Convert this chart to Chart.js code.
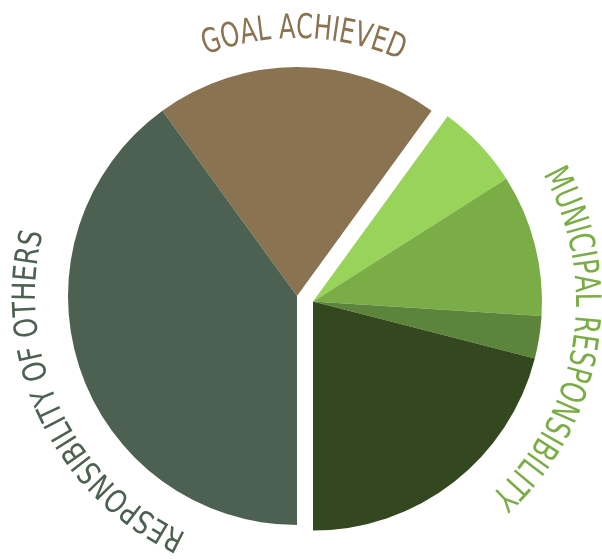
<!DOCTYPE html>
<html>
<head>
<meta charset="utf-8">
<script src="https://cdn.jsdelivr.net/npm/chart.js@4"></script>
<style>
  html, body { margin: 0; padding: 0; background: #fff; }
  #wrap { width: 602px; height: 559px; position: relative; }
</style>
</head>
<body>
<div id="wrap"><canvas id="pieChart"></canvas></div>
<script>
// slices, clockwise from the goal achieved slice
const sliceLabels = ['Goal achieved', 'Municipal 1', 'Municipal 2', 'Municipal 3', 'Municipal 4', 'Responsibility of others'];
const sliceValues = [20, 6, 10, 3, 21, 40];
const sliceColors = ['#8a7350', '#98d35a', '#7bad47', '#5c843a', '#33481e', '#4c6151'];
const municipalSlices = [1, 2, 3, 4]; // pulled out together

// curved group titles
const groupTitles = ['GOAL ACHIEVED', 'MUNICIPAL RESPONSIBILITY', 'RESPONSIBILITY OF OTHERS'];
const groupColors = ['#8a7350', '#7bad47', '#4c6151'];

const FONT = '"Liberation Sans Narrow", "DejaVu Sans Condensed", "Liberation Sans", sans-serif';

// shift the municipal slices as one block
const pullOut = {
    id: 'pullOut',
    afterDatasetsUpdate(chart) {
        const meta = chart.getDatasetMeta(0);
        municipalSlices.forEach(function (i) {
            const arc = meta.data[i];
            arc.x += 16;
            arc.y += 5.5;
        });
    }
};

// text along a circle, tops facing outward
function drawArcText(ctx, text, cx, cy, r, a0, a1, size, color) {
    ctx.save();
    ctx.font = size + 'px ' + FONT;
    ctx.fillStyle = color;
    ctx.textAlign = 'center';
    ctx.textBaseline = 'alphabetic';
    const widths = [];
    let total = 0;
    for (const ch of text) {
        const w = ctx.measureText(ch).width;
        widths.push(w);
        total += w;
    }
    const rad = Math.PI / 180;
    const arcLen = r * (a1 - a0) * rad;
    const sx = arcLen / total;
    let ang = a0 * rad;
    let k = 0;
    for (const ch of text) {
        const step = widths[k] * sx / r;
        const a = ang + step / 2;
        ctx.save();
        ctx.translate(cx + r * Math.sin(a), cy - r * Math.cos(a));
        ctx.rotate(a);
        ctx.scale(sx, 1);
        ctx.fillText(ch, 0, 0);
        ctx.restore();
        ang += step;
        k++;
    }
    ctx.restore();
}

const groupText = {
    id: 'groupText',
    afterDraw(chart) {
        const ctx = chart.ctx;
        const meta = chart.getDatasetMeta(0);
        const c0 = meta.data[0];
        const c1 = meta.data[1];
        drawArcText(ctx, groupTitles[0], c0.x, c0.y, 258, -20.7, 23.7, 34, groupColors[0]);
        drawArcText(ctx, groupTitles[1], c1.x, c1.y, 263, 61, 137.5, 35, groupColors[1]);
        drawArcText(ctx, groupTitles[2], c0.x, c0.y, 262, 205, 284, 32, groupColors[2]);
    }
};

document.addEventListener('DOMContentLoaded', function () {
    const ctx = document.getElementById('pieChart').getContext('2d');
    new Chart(ctx, {
        type: 'pie',
        data: {
            labels: sliceLabels,
            datasets: [{
                data: sliceValues,
                backgroundColor: sliceColors,
                borderWidth: 0,
                hoverBorderWidth: 0,
                hoverOffset: 0
            }]
        },
        options: {
            responsive: true,
            maintainAspectRatio: false,
            animation: false,
            rotation: -36,
            layout: {
                padding: { left: 68, right: 76, top: 67, bottom: 34 }
            },
            plugins: {
                legend: { display: false },
                tooltip: { enabled: false }
            },
            events: []
        },
        plugins: [pullOut, groupText]
    });
});
</script>
</body>
</html>
